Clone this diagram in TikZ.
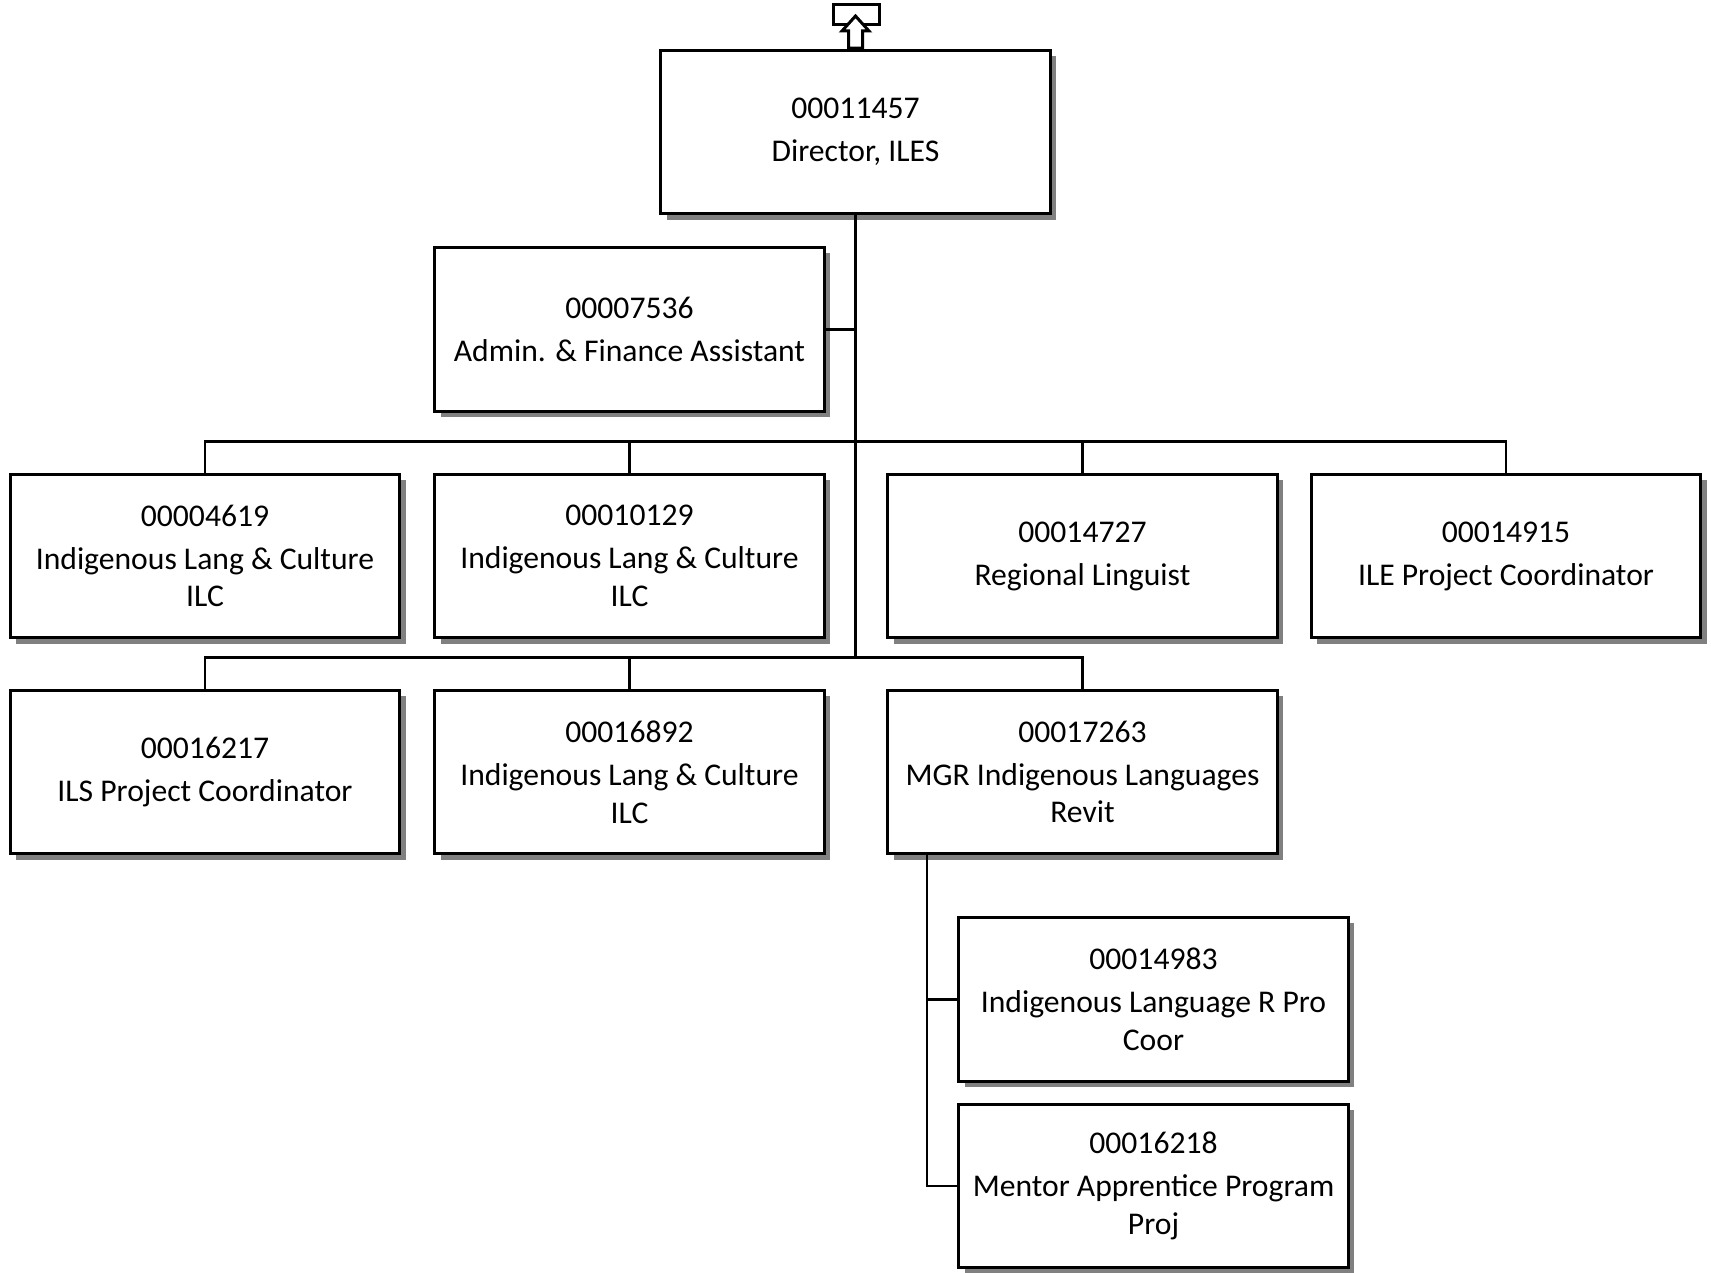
\documentclass[tikz,border=0pt]{standalone}
\usepackage{fontspec}
\setmainfont{Carlito}
\usetikzlibrary{shadows}

\tikzset{
  box/.style={draw, fill=white, line width=1.7pt, minimum width=7.8cm, minimum height=3.28cm,
    align=center, font=\fontsize{18}{21.5}\selectfont,
    drop shadow={shadow xshift=3.4pt, shadow yshift=-3.4pt, fill=black!50, opacity=1}},
  link/.style={line width=1.5pt}
}

\begin{document}
\begin{tikzpicture}[x=0.02cm, y=-0.02cm]
\useasboundingbox (0,0) rectangle (1711,1273);

\node (dir) at (855.5,132) [box] {00011457\\[3pt]Director, ILES};
\node (admin) at (629.5,329.5) [box] {00007536\\[3pt]Admin. \& Finance Assistant};

\node (ilc1) at (205,556) [box] {00004619\\[3pt]Indigenous Lang \& Culture\\ILC};
\node (ilc2) at (629.5,556) [box] {00010129\\[3pt]Indigenous Lang \& Culture\\ILC};
\node (ling) at (1082.5,556) [box] {00014727\\[3pt]Regional Linguist};
\node (ile) at (1506,556) [box] {00014915\\[3pt]ILE Project Coordinator};

\node (ils) at (205,772) [box] {00016217\\[3pt]ILS Project Coordinator};
\node (ilc3) at (629.5,772) [box] {00016892\\[3pt]Indigenous Lang \& Culture\\ILC};
\node (mgr) at (1082.5,772) [box] {00017263\\[3pt]MGR Indigenous Languages\\Revit};

\node (ilr) at (1153.5,999.5) [box] {00014983\\[3pt]Indigenous Language R Pro\\Coor};
\node (map) at (1153.5,1186) [box] {00016218\\[3pt]Mentor Apprentice Program\\Proj};

\coordinate (bus2) at (855.5,659);

\draw[link] (dir.south) -- (bus2);
\draw[link] (admin.east) -- (admin.east -| dir.south);
\draw[link] (ilc1.north) -- ++(0,-31) -| (ile.north);
\draw[link] (ilc2.north) -- ++(0,-31);
\draw[link] (ling.north) -- ++(0,-31);
\draw[link] (ils.north) -- ++(0,-31) -| (mgr.north);
\draw[link] (ilc3.north) -- ++(0,-31);
\draw[link] (mgr.south west) ++(41,0) |- (ilr.west);
\draw[link] (mgr.south west) ++(41,0) |- (map.west);

\draw[line width=1.7pt, fill=white] (833,5) rectangle (879,25);
\draw[line width=1.7pt, fill=white] (848.5,48) -- (848.5,31) -- (842,31) -- (855.5,16)
  -- (869,31) -- (862.5,31) -- (862.5,48) -- cycle;
\end{tikzpicture}
\end{document}
